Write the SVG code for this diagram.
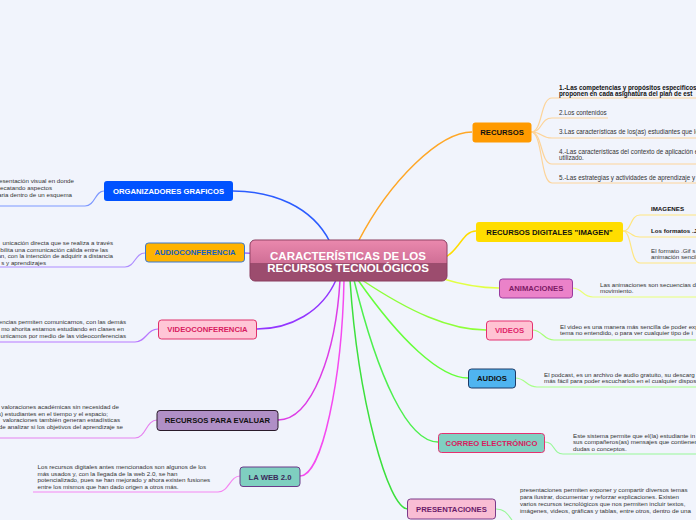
<svg xmlns="http://www.w3.org/2000/svg" width="696" height="520" viewBox="0 0 696 520">
<defs>
<linearGradient id="cg" x1="0" y1="0" x2="0" y2="1">
<stop offset="0" stop-color="#ea88ad"/>
<stop offset="1" stop-color="#d06f96"/>
</linearGradient>
</defs>
<style>
.t{font-family:"Liberation Sans",Arial,sans-serif;font-size:6.2px;fill:#333}
.r{font-size:6.3px}
.tb{font-weight:bold;fill:#111}
.n{font-family:"Liberation Sans",Arial,sans-serif;font-size:7.7px;font-weight:bold;text-anchor:middle}
.c{fill:none;stroke-width:1.5}
.s{fill:none;stroke-width:1.2}
</style>
<rect width="696" height="520" fill="#f1f4fc"/>
<g id="connectors">
<path class="c" stroke="#2b5cff" d="M330,242 C312,206 272,191 233,191"/>
<path class="c" stroke="#9a6bff" d="M244,253 C250,253 256,254 262,256"/>
<path class="c" stroke="#9336ff" d="M336,280 C322,312 290,329 257,329"/>
<path class="c" stroke="#dd3ce6" d="M340,280 C336,352 312,420 278,420"/>
<path class="c" stroke="#f54af0" d="M344,280 C342,380 322,476 300,476"/>
<path class="c" stroke="#3ce03c" d="M350,280 C358,400 388,509 408,509"/>
<path class="c" stroke="#4ef04e" d="M354,280 C378,378 408,442 438,442"/>
<path class="c" stroke="#66ff3a" d="M358,280 C400,340 440,378 468,378"/>
<path class="c" stroke="#8eff3a" d="M362,280 C410,312 450,330 486,330"/>
<path class="c" stroke="#e2ff44" d="M440,278 C466,286 484,288 499,288"/>
<path class="c" stroke="#ffdc00" d="M440,260 C460,252 462,231 476,231"/>
<path class="c" stroke="#ffa726" d="M358,242 C390,180 440,132 472,132"/>
<path class="s" stroke="#7d98ff" d="M104,191 C95,191 95,206 85,206 L0,206"/>
<path class="s" stroke="#ad8cff" d="M145,253 C135,253 135,267 125,267 L0,267"/>
<path class="s" stroke="#b878ff" d="M158,329 C147,329 146,342 135,342 L0,342"/>
<path class="s" stroke="#e682f0" d="M157,420 C146,420 146,438 135,438 L0,438"/>
<path class="s" stroke="#f585f2" d="M240,476 C230,476 229,492 218,492 L33,492"/>
<path class="s" stroke="#fdd49a" d="M531,132 C543,132 540,98 552,98 L696,98"/>
<path class="s" stroke="#fdd49a" d="M531,132 C543,132 540,118 552,118 L608,118"/>
<path class="s" stroke="#fdd49a" d="M531,132 C543,132 540,138 552,138 L696,138"/>
<path class="s" stroke="#fdd49a" d="M531,132 C543,132 540,164 552,164 L696,164"/>
<path class="s" stroke="#fdd49a" d="M531,132 C543,132 540,183 552,183 L696,183"/>
<path class="s" stroke="#ffe680" d="M623,231 C632,231 630,215 640,215 L696,215"/>
<path class="s" stroke="#ffe680" d="M623,231 C632,231 630,237 640,237 L696,237"/>
<path class="s" stroke="#ffe680" d="M623,231 C632,231 630,263 640,263 L696,263"/>
<path class="s" stroke="#eaff78" d="M572,288 C583,288 582,297 593,297 L696,297"/>
<path class="s" stroke="#a8ff78" d="M532,330 C543,330 543,340 554,340 L696,340"/>
<path class="s" stroke="#a8ff88" d="M515,378 C526,378 526,387 537,387 L696,387"/>
<path class="s" stroke="#98f898" d="M545,442 C555,442 553,454 563,454 L696,454"/>
<path class="s" stroke="#98f898" d="M496,509 C504,509 507,513 512,520"/>
</g>
<g id="center">
<rect x="250" y="240" width="197" height="41" rx="5" fill="#9c4c6e" stroke="#8a3c5f" stroke-width="1"/>
<path d="M255,240.5 H442 A4.5,4.5 0 0 1 446.5,245 V263 H250.5 V245 A4.5,4.5 0 0 1 255,240.5 Z" fill="url(#cg)"/>
<text x="348" y="259.5" font-family="Liberation Sans,Arial,sans-serif" font-size="11.5" font-weight="bold" fill="#fff" text-anchor="middle">CARACTERÍSTICAS DE LOS</text>
<text x="348" y="271.5" font-family="Liberation Sans,Arial,sans-serif" font-size="11.5" font-weight="bold" fill="#fff" text-anchor="middle">RECURSOS TECNOLÓGICOS</text>
</g>
<g id="recursos">
<rect x="472.5" y="122.5" width="59" height="20" rx="3" fill="#ff9a00"/>
<text class="n" x="502" y="135" fill="#111">RECURSOS</text>
<text class="t r tb" x="559" y="90">1.-Las competencias y propósitos especificos</text>
<text class="t r tb" x="559" y="95.5">proponen en cada asignatura del plan de est</text>
<text class="t r" x="559" y="114.5">2.Los contenidos</text>
<text class="t r" x="559" y="133.5">3.Las características de los(as) estudiantes que lo</text>
<text class="t r" x="559" y="154">4.-Las características del contexto de aplicación e</text>
<text class="t r" x="559" y="160">utilizado.</text>
<text class="t r" x="559" y="179.5">5.-Las estrategias y actividades de aprendizaje y</text>
</g>
<g id="imagen">
<rect x="476" y="222" width="147" height="20" rx="3" fill="#ffdd00"/>
<text class="n" x="549.5" y="234.8" fill="#111">RECURSOS DIGITALES "IMAGEN"</text>
<text class="t tb" x="651" y="211">IMAGENES</text>
<text class="t tb" x="651" y="233">Los formatos .JPG</text>
<text class="t" x="651" y="253">El formato .Gif s</text>
<text class="t" x="651" y="259">animación sencil</text>
</g>
<g id="animaciones">
<rect x="499.5" y="279" width="73" height="19" rx="3" fill="#eb82c9" stroke="#9a3a9e" stroke-width="1"/>
<text class="n" x="536" y="291.3" fill="#7e1a66">ANIMACIONES</text>
<text class="t" x="600" y="287">Las animaciones son secuencias de</text>
<text class="t" x="600" y="292.7">movimiento.</text>
</g>
<g id="videos">
<rect x="486.5" y="321" width="46" height="19" rx="3" fill="#ffc3d3" stroke="#e53070" stroke-width="1"/>
<text class="n" x="509.5" y="333.3" fill="#e0256a">VIDEOS</text>
<text class="t" x="560" y="329.3">El video es una manera más sencilla de poder exp</text>
<text class="t" x="560" y="335.3">tema no entendido, o para ver cualquier tipo de i</text>
</g>
<g id="audios">
<rect x="468.5" y="369" width="47" height="19" rx="3" fill="#4fb4f0" stroke="#1e3a66" stroke-width="1"/>
<text class="n" x="492" y="381.3" fill="#111">AUDIOS</text>
<text class="t" x="544" y="377">El podcast, es un archivo de audio gratuito, su descarg</text>
<text class="t" x="544" y="382.7">más fácil para poder escucharlos en el cualquier dispos</text>
</g>
<g id="correo">
<rect x="438.5" y="433.5" width="106" height="19" rx="3" fill="#80d0c2" stroke="#e53070" stroke-width="1"/>
<text class="n" x="491.5" y="445.8" fill="#d81b60">CORREO ELECTRÓNICO</text>
<text class="t" x="573" y="438">Este sistema permite que el(la) estudiante in</text>
<text class="t" x="573" y="444">sus compañeros(as) mensajes que contienen</text>
<text class="t" x="573" y="451">dudas o conceptos.</text>
</g>
<g id="presentaciones">
<rect x="407.5" y="499" width="88" height="20" rx="3" fill="#f9bdd4" stroke="#7b3a8a" stroke-width="1"/>
<text class="n" x="451.5" y="511.8" fill="#6a1b6a">PRESENTACIONES</text>
<text class="t" x="520" y="492">presentaciones permiten exponer y compartir diversos temas</text>
<text class="t" x="520" y="499">para ilustrar, documentar y reforzar explicaciones. Existen</text>
<text class="t" x="520" y="506">varios recursos tecnológicos que nos permiten incluir textos,</text>
<text class="t" x="520" y="513">imágenes, videos, gráficas y tablas, entre otros, dentro de una</text>
</g>
<g id="organizadores">
<rect x="104" y="181" width="129" height="20" rx="3" fill="#0052ff"/>
<text class="n" x="168.5" y="193.8" fill="#fff">ORGANIZADORES GRAFICOS</text>
<text class="t" x="74" y="183" text-anchor="end">esentación visual en donde</text>
<text class="t" x="52" y="190" text-anchor="end">ecatando aspectos</text>
<text class="t" x="72" y="197" text-anchor="end">aria dentro de un esquema</text>
</g>
<g id="audioconferencia">
<rect x="145.5" y="243" width="99" height="19" rx="3" fill="#ffb300" stroke="#3a78d0" stroke-width="1"/>
<text class="n" x="195" y="255.3" fill="#1560c0">AUDIOCONFERENCIA</text>
<text class="t" x="113" y="245" text-anchor="end">unicación directa que se realiza a través</text>
<text class="t" x="108" y="251.5" text-anchor="end">bilita una comunicación cálida entre las</text>
<text class="t" x="113" y="258" text-anchor="end">an, con la intención de adquirir a distancia</text>
<text class="t" x="46" y="264.5" text-anchor="end">s y aprendizajes</text>
</g>
<g id="videoconferencia">
<rect x="158.5" y="320" width="98" height="19" rx="3" fill="#ffc6d6" stroke="#e0306a" stroke-width="1"/>
<text class="n" x="207.5" y="332.3" fill="#d81b60">VIDEOCONFERENCIA</text>
<text class="t" x="126" y="324" text-anchor="end">encias permiten comunicarnos, con las demás</text>
<text class="t" x="124" y="331" text-anchor="end">mo ahorita estamos estudiando en clases en</text>
<text class="t" x="126" y="338" text-anchor="end">unicamos por medio de las videoconferencias</text>
</g>
<g id="evaluar">
<rect x="157" y="410.5" width="121" height="20" rx="3" fill="#b08fc6" stroke="#2a1a2a" stroke-width="1"/>
<text class="n" x="217.5" y="423.3" fill="#111">RECURSOS PARA EVALUAR</text>
<text class="t" x="119" y="409" text-anchor="end">valoraciones académicas sin necesidad de</text>
<text class="t" x="108" y="415.5" text-anchor="end">(as) estudiantes en el tiempo y el espacio;</text>
<text class="t" x="120" y="422" text-anchor="end">valoraciones también generan estadísticas</text>
<text class="t" x="123" y="429" text-anchor="end">de analizar si los objetivos del aprendizaje se</text>
</g>
<g id="web20">
<rect x="240" y="467" width="60" height="19.5" rx="3" fill="#7fcfc0" stroke="#6a3a8a" stroke-width="1"/>
<text class="n" x="270" y="479.5" fill="#3a2a5a">LA WEB 2.0</text>
<text class="t" x="37.5" y="469">Los recursos digitales antes mencionados son algunos de los</text>
<text class="t" x="37.5" y="475.5">más usados y, con la llegada de la web 2.0, se han</text>
<text class="t" x="37.5" y="482">potencializado, pues se han mejorado y ahora existen fusiones</text>
<text class="t" x="37.5" y="489">entre los mismos que han dado origen a otros más.</text>
</g>
</svg>
